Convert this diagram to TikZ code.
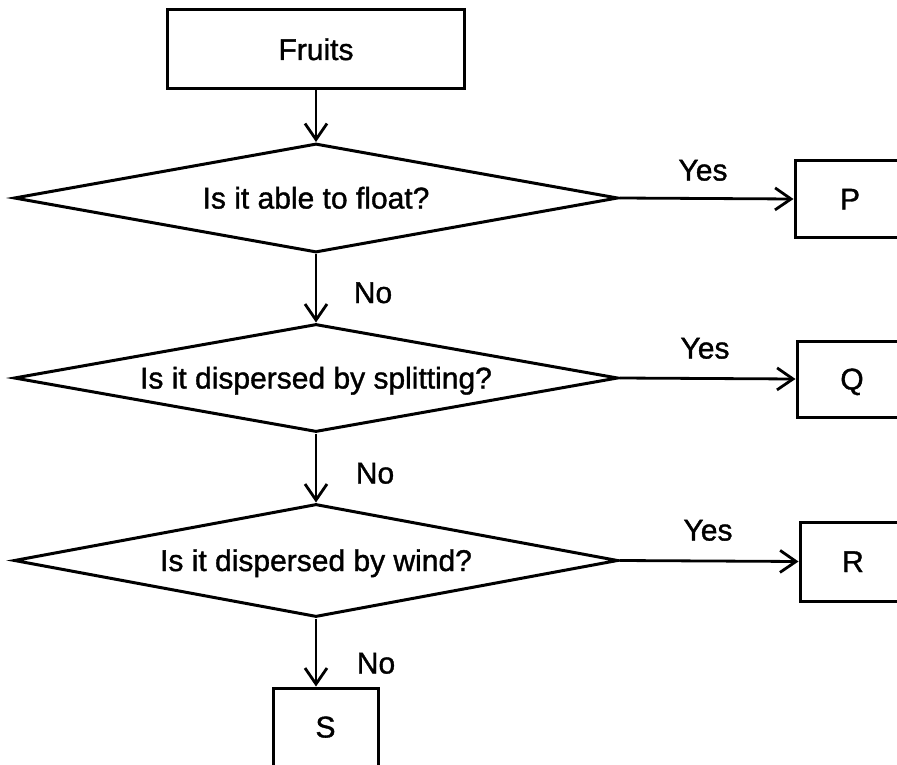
\documentclass[tikz,border=0pt]{standalone}
\usepackage{fontspec}
\setmainfont{Liberation Sans}
\newfontfamily\heavysans{Liberation Sans}[FakeBold=1.2]
\usetikzlibrary{shapes.geometric,arrows.meta}
\begin{document}
\begin{tikzpicture}[x=1pt,y=-1pt,
  every node/.style={font=\heavysans\fontsize{30}{35}\selectfont, text height=21pt, text depth=0pt},
  box/.style={draw, line width=3pt, rectangle, inner sep=0pt},
  decision/.style={draw, line width=3pt, diamond, aspect=6, inner sep=0pt},
  flow/.style={line width=2.8pt, -{Straight Barb[length=16pt,width=22pt,line width=2.8pt]}},
  lbl/.style={inner sep=0pt}]
\clip (0,0) rectangle (897,765);
\useasboundingbox (0,0) rectangle (897,765);
% nodes
\node[box, minimum width=297pt, minimum height=79pt] (fruits) at (316,49.5) {Fruits};
\node[decision, minimum width=604pt, minimum height=109pt] (d1) at (316,198) {Is it able to float?};
\node[decision, minimum width=604pt, minimum height=108pt] (d2) at (316,378) {Is it dispersed by splitting?};
\node[decision, minimum width=604pt, minimum height=113pt] (d3) at (316,560.5) {Is it dispersed by wind?};
\node[box, minimum width=110pt, minimum height=76pt] (p) at (850,199) {P};
\node[box, minimum width=110pt, minimum height=76pt] (q) at (852,379) {Q};
\node[box, minimum width=106pt, minimum height=79pt] (r) at (853,561.5) {R};
\node[box, minimum width=105pt, minimum height=78pt] (s) at (325.5,727) {S};
% labels
\node[lbl] (yes1) at (703,170) {Yes};
\node[lbl] (yes2) at (705,348) {Yes};
\node[lbl] (yes3) at (708,530) {Yes};
\node[lbl] (no1) at (373,292.5) {No};
\node[lbl] (no2) at (375,473) {No};
\node[lbl] (no3) at (376,663) {No};
% connectors
\draw[flow] (fruits.south) -- (d1.north);
\draw[flow] (d1.south) -- (d2.north);
\draw[flow] (d2.south) -- (d3.north);
\draw[flow] (d3.south) -- (d3.south |- s.north);
\draw[flow] (d1.east) -- (p.west);
\draw[flow] (d2.east) -- (q.west);
\draw[flow] (d3.east) -- (r.west);
\end{tikzpicture}
\end{document}
